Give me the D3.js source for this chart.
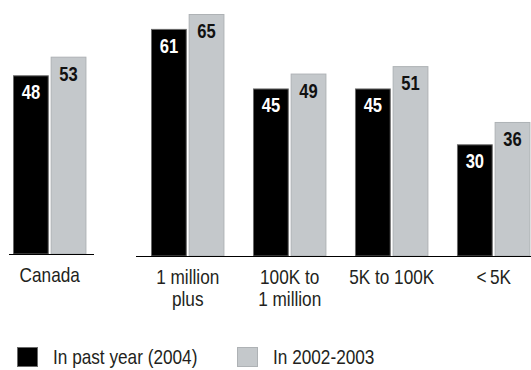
<!DOCTYPE html>
<html>
<head>
<meta charset="utf-8">
<script src="https://cdn.jsdelivr.net/npm/d3@7"></script>
<style>
  html, body { margin: 0; padding: 0; background: #fff; }
  svg { display: block; }
  text { font-family: "Liberation Sans", Arial, sans-serif; }
</style>
</head>
<body>
<svg id="chart" width="531" height="370"></svg>
<script>
// Population groups (the national total is drawn on its own, apart from the rest)
const totalCategory = ["Canada"];
const categories = ["1 million plus", "100K to 1 million", "5K to 100K", "<5K"];
const categoryLines = [["1 million", "plus"], ["100K to", "1 million"], ["5K to 100K"], ["<\u20095K"]];
const seriesNames = ["In past year (2004)", "In 2002-2003"];
const totalValues = [[48, 53]];
const pastYear = [61, 45, 45, 30];
const earlier = [65, 49, 51, 36];

const fills = ["#000000", "#c4c8cb"];
const strokes = ["#6a6a6a", "#aeb2b5"];
const labelColors = ["#ffffff", "#111111"];
const textColor = "#231f20";

const svg = d3.select("#chart");

const y = d3.scaleLinear().domain([0, 65]).range([256, 14]);

const xGroups = d3.scaleBand().domain(categories).range([151, 530.4]).paddingInner(0.28).paddingOuter(0);
const xTotal = d3.scaleBand().domain(totalCategory).range([13, 13 + xGroups.bandwidth()]);
const xSeries = d3.scaleBand().domain(seriesNames).range([0, xGroups.bandwidth()]).paddingInner(0.05);

// Condensed lettering: regular face squeezed horizontally
function narrowText(parent, x, y, str, opts = {}) {
  const sx = opts.squeeze || 0.82;
  return parent.append("text")
    .attr("transform", `translate(${x},${y}) scale(${sx},1)`)
    .attr("text-anchor", opts.anchor || "middle")
    .attr("font-size", opts.size || 21)
    .attr("font-weight", opts.weight || "normal")
    .attr("fill", opts.fill || textColor)
    .text(str);
}

function drawGroup(g, values) {
  seriesNames.forEach((s, i) => {
    const v = values[i];
    g.append("rect")
      .attr("x", xSeries(s) + 0.5)
      .attr("y", y(v) + 0.5)
      .attr("width", xSeries.bandwidth() - 1)
      .attr("height", y(0) - y(v) - 0.5)
      .attr("fill", fills[i])
      .attr("stroke", strokes[i])
      .attr("stroke-width", 1);
    narrowText(g, xSeries(s) + xSeries.bandwidth() / 2, y(v) + 24, v,
      { size: 19.5, weight: "bold", fill: labelColors[i], squeeze: 0.85 });
  });
}

// National total, sitting on a slightly higher baseline
const totalG = svg.append("g").attr("transform", "translate(0,-2)");
totalCategory.forEach((c, ci) => {
  const g = totalG.append("g").attr("transform", `translate(${xTotal(c)},0)`);
  drawGroup(g, totalValues[ci]);
  narrowText(g, xTotal.bandwidth() / 2, 284, c);
});
totalG.append("line")
  .attr("x1", 9).attr("x2", 94)
  .attr("y1", y(0) + 0.5).attr("y2", y(0) + 0.5)
  .attr("stroke", "#000").attr("stroke-width", 1.2);

// Size groups
categories.forEach((c, ci) => {
  const g = svg.append("g").attr("transform", `translate(${xGroups(c)},0)`);
  drawGroup(g, [pastYear[ci], earlier[ci]]);
  categoryLines[ci].forEach((line, li) => {
    narrowText(g, xGroups.bandwidth() / 2, 284 + li * 22, line);
  });
});
svg.append("line")
  .attr("x1", 136).attr("x2", 531)
  .attr("y1", y(0) + 0.5).attr("y2", y(0) + 0.5)
  .attr("stroke", "#000").attr("stroke-width", 1.2);

// Legend
const legendX = [17, 237];
seriesNames.forEach((s, i) => {
  const g = svg.append("g").attr("transform", `translate(${legendX[i]},347)`);
  g.append("rect")
    .attr("x", 0.5).attr("y", 0.5)
    .attr("width", 20).attr("height", 19)
    .attr("fill", fills[i])
    .attr("stroke", strokes[i]);
  narrowText(g, 36, 17, s, { anchor: "start" });
});
</script>
</body>
</html>
